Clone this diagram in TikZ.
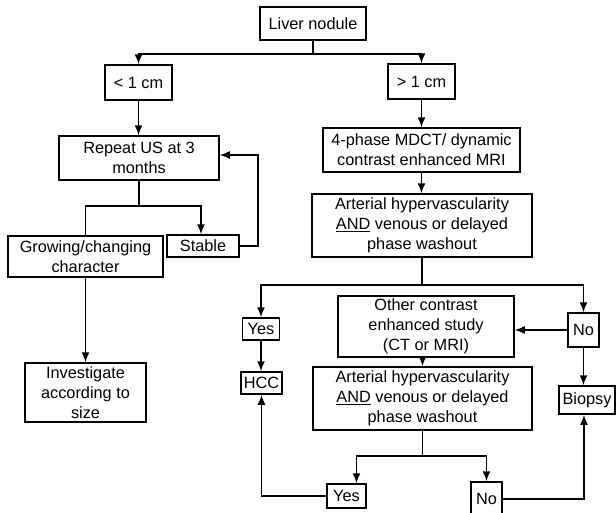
\documentclass[tikz,border=0pt]{standalone}
\usepackage{fontspec}
\setmainfont{Liberation Sans}
\usepackage{tikz}
\usetikzlibrary{
    shapes,
    arrows.meta,
    positioning
}
\tikzset{box/.style={
    draw,
    line width=1.5pt,
    inner sep=0pt,
    align=center,
    font=\fontsize{16.3}{20}\selectfont,
}}
\tikzset{arrow/.style={
    -{Latex[length=10pt,width=8pt]},
    line width=1.5pt,
}}
\tikzset{line/.style={
    line width=1.5pt,
}}

\begin{document}
\begin{tikzpicture}[
                x=1pt,
                y=-1pt
        ]
            \useasboundingbox (0,0) rectangle (616,512);

            \node[box, minimum width=106pt, minimum height=33pt] (liver) at (313,23.5) {Liver nodule};
            \node[box, minimum width=67pt, minimum height=35pt] (small) at (138.5,82.5) {< 1 cm};
            \node[box, minimum width=67pt, minimum height=35pt] (large) at (421.5,81.5) {> 1 cm};

            \node[box, minimum width=160pt, minimum height=44pt] (repeat-us) at (139,158) {Repeat US at 3\\months};
            \node[box, minimum width=155pt, minimum height=41pt] (growing) at (85.5,256.5) {Growing/changing\\character};
            \node[box, minimum width=72pt, minimum height=22pt] (stable) at (203,246) {Stable};
            \node[box, minimum width=121pt, minimum height=59pt] (investigate) at (85.5,392.5) {Investigate\\according to\\size};

            \node[box, minimum width=197pt, minimum height=44pt] (mdct) at (421.5,150) {4-phase MDCT/ dynamic\\contrast enhanced MRI};
            \node[box, minimum width=220pt, minimum height=63pt] (arterial-1) at (422,225.5) {Arterial hypervascularity\\\underline{AND} venous or delayed\\phase washout};
            \node[box, minimum width=37pt, minimum height=22pt] (yes-1) at (261,329) {Yes};
            \node[box, minimum width=41pt, minimum height=22pt] (hcc) at (261.5,383) {HCC};
            \node[box, minimum width=31pt, minimum height=34pt] (no-1) at (583.5,330) {No};
            \node[box, minimum width=176pt, minimum height=61pt] (other) at (426,326.5) {Other contrast\\enhanced study\\(CT or MRI)};
            \node[box, minimum width=219pt, minimum height=63pt] (arterial-2) at (422.5,398.5) {Arterial hypervascularity\\\underline{AND} venous or delayed\\phase washout};
            \node[box, minimum width=56pt, minimum height=28pt] (biopsy) at (587,400) {Biopsy};
            \node[box, minimum width=39pt, minimum height=24pt] (yes-2) at (346.5,496) {Yes};
            \node[box, minimum width=31pt, minimum height=34pt] (no-2) at (486.5,499) {No};

            \draw[arrow] (liver.south) -- ++(0,13) -| (small.north);
            \draw[arrow] (liver.south) -- ++(0,13) -| (large.north);
            \draw[arrow] (small.south) -- (small.south |- repeat-us.north);
            \draw[line] (repeat-us.south) -- ++(0,25) -| (growing.north);
            \draw[arrow] (repeat-us.south) -- ++(0,25) -| ([xshift=-2pt]stable.north);
            \draw[arrow] (stable.east) -- ++(18,0) |- ([yshift=3pt]repeat-us.east);
            \draw[arrow] (growing.south) -- (investigate.north);

            \draw[arrow] (large.south) -- (mdct.north);
            \draw[arrow] (mdct.south) -- (mdct.south |- arterial-1.north);
            \draw[arrow] (arterial-1.south) -- ++(0,27) -| (yes-1.north);
            \draw[arrow] (arterial-1.south) -- ++(0,27) -| (no-1.north);
            \draw[arrow] (yes-1.south) -- (yes-1.south |- hcc.north);
            \draw[arrow] (no-1.west) -- (no-1.west -| other.east);
            \draw[arrow] (no-1.south) -- (no-1.south |- biopsy.north);
            \draw[arrow] (arterial-2.north |- other.south) -- (arterial-2.north);
            \draw[arrow] (arterial-2.south) -- ++(0,25) -| ([xshift=10pt]yes-2.north);
            \draw[arrow] (arterial-2.south) -- ++(0,25) -| (no-2.north);
            \draw[arrow] (yes-2.west) -| (hcc.south);
            \draw[arrow] (no-2.east) -| ([xshift=-3pt]biopsy.south);

        \end{tikzpicture}
\end{document}
